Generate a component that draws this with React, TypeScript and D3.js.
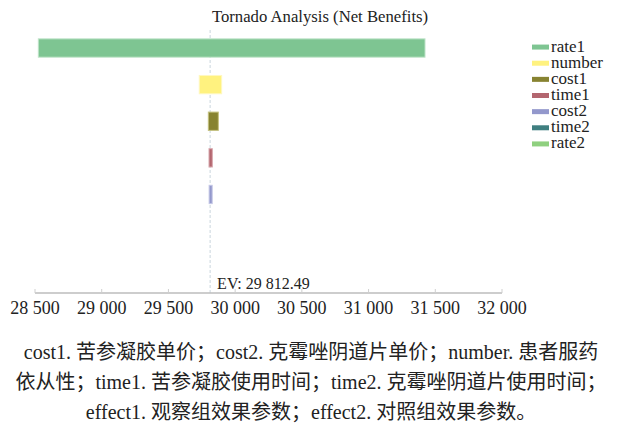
import React from "react";
import * as d3 from "d3";

const categories = ["rate1", "number", "cost1", "time1", "cost2", "time2", "rate2"];
const lowValues = [28525, 29731, 29799, 29804, 29805, 29812.49, 29812.49];
const highValues = [31423, 29899, 29874, 29829, 29828, 29812.49, 29812.49];
const barColors = ["#7ec592", "#fff27f", "#878331", "#b3666f", "#9398cc", "#3f7f80", "#8fd07f"];
const barStrokes = ["#bfe3c8", "#fff8c0", "#c4c17f", "#d9a9af", "#c4c7e6", "#8fb5b5", "#c4e8bc"];
const tickValues = [28500, 29000, 29500, 30000, 30500, 31000, 31500, 32000];
const tickLabels = ["28 500", "29 000", "29 500", "30 000", "30 500", "31 000", "31 500", "32 000"];
const expectedValue = 29812.49;
const evLabel = "EV: 29 812.49";
const title = "Tornado Analysis (Net Benefits)";
const captionLines = [
  "cost1. 苦参凝胶单价；cost2. 克霉唑阴道片单价；number. 患者服药",
  "依从性；time1. 苦参凝胶使用时间；time2. 克霉唑阴道片使用时间；",
  "effect1. 观察组效果参数；effect2. 对照组效果参数。",
];

const W = 621;
const H = 428;
const latin = '"Liberation Serif", "DejaVu Serif", serif';
const cjk = '"Noto Sans CJK SC", "Noto Sans CJK JP", sans-serif';

function splitScript(s: string) {
  const parts: { t: string; c: boolean }[] = [];
  const re = /[\u3000-\u303f\u4e00-\u9fff\uff00-\uffef]+|[^\u3000-\u303f\u4e00-\u9fff\uff00-\uffef]+/g;
  let m: RegExpExecArray | null;
  while ((m = re.exec(s))) {
    parts.push({ t: m[0], c: /[\u3000-\u303f\u4e00-\u9fff\uff00-\uffef]/.test(m[0]) });
  }
  return parts;
}

export default function App() {
  const x = d3.scaleLinear().domain([28500, 32000]).range([35, 502]);
  const y = d3.scaleBand<string>().domain(categories).range([29.7, 286]).paddingInner(0.5).paddingOuter(0.25);
  const axisY = 293;
  const legendY = d3.scaleBand<string>().domain(categories).range([39, 152]);
  const txt = { fontFamily: latin, fill: "#222" } as React.CSSProperties;

  return (
    <svg width={W} height={H} style={{ position: "absolute", left: 0, top: 0, background: "#fff" }}>
      <text x={320} y={22} textAnchor="middle" style={{ ...txt, fontSize: 16.7 }}>
        {title}
      </text>
      {/* EV line */}
      <line x1={x(expectedValue)} x2={x(expectedValue)} y1={30} y2={axisY} stroke="#c9d5dd" strokeWidth={1} strokeDasharray="3,2" />
      {categories.map((c, i) => {
        const x0 = x(Math.min(lowValues[i], highValues[i]));
        const x1 = x(Math.max(lowValues[i], highValues[i]));
        if (x1 - x0 <= 0) return null;
        return (
          <rect key={c} x={x0} y={y(c)} width={x1 - x0} height={y.bandwidth()} fill={barColors[i]} stroke={barStrokes[i]} strokeWidth={1} />
        );
      })}
      {/* axis */}
      <line x1={x(28500)} x2={x(32000)} y1={axisY} y2={axisY} stroke="#bcbcbc" strokeWidth={1.5} />
      {tickValues.map((t, i) => (
        <g key={t}>
          <line x1={x(t)} x2={x(t)} y1={axisY - 4} y2={axisY} stroke="#cfcfcf" strokeWidth={1} />
          <text x={x(t)} y={314} textAnchor="middle" style={{ ...txt, fontSize: 18 }}>
            {tickLabels[i]}
          </text>
        </g>
      ))}
      <text x={x(expectedValue) + 7} y={289} style={{ ...txt, fontSize: 16 }}>
        {evLabel}
      </text>
      {/* legend */}
      {categories.map((c, i) => {
        const cy = (legendY(c) as number) + legendY.bandwidth() / 2;
        return (
          <g key={c}>
            <rect x={532} y={cy - 2.5} width={17} height={5} fill={barColors[i]} />
            <text x={551} y={cy + 4.5} style={{ ...txt, fontSize: 17 }}>
              {c}
            </text>
          </g>
        );
      })}
      {captionLines.map((l, i) => (
        <text key={i} x={311} y={359 + i * 30} textAnchor="middle" style={{ fill: "#222", fontSize: 20 }}>
          {splitScript(l).map((p, j) => (
            <tspan key={j} style={{ fontFamily: p.c ? cjk : latin }}>
              {p.t}
            </tspan>
          ))}
        </text>
      ))}
    </svg>
  );
}
